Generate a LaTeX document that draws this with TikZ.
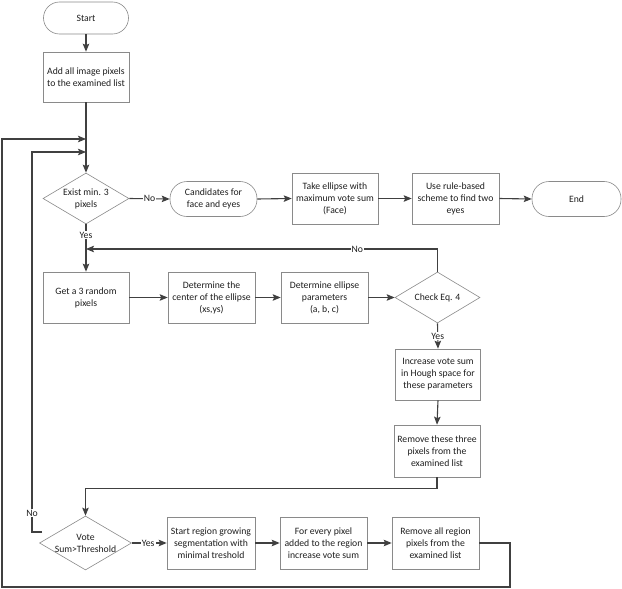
\documentclass[tikz,border=0pt]{standalone}
\usepackage{fontspec}
\setmainfont{Carlito}
\usetikzlibrary{arrows.meta,shapes.geometric,calc}
\definecolor{linec}{HTML}{404040}
\definecolor{boxc}{HTML}{8A8A8A}
\definecolor{txt}{HTML}{1E1E1E}
\begin{document}
\begin{tikzpicture}[x=1pt,y=-1pt,
  font=\fontsize{9.7}{12}\selectfont,
  box/.style={draw=boxc, line width=0.6pt, fill=white, minimum width=86pt, minimum height=51pt, inner sep=0pt, align=center, text=txt},
  term/.style={box, rounded corners=17pt, minimum height=35pt},
  dia/.style={draw=boxc, line width=0.6pt, fill=white, diamond, inner sep=0pt, minimum width=86pt, minimum height=51pt},
  dtext/.style={align=center, text=txt, inner sep=0pt},
  arr/.style={draw=linec, line width=1.1pt, -{Stealth[length=8pt,width=6.5pt,inset=1.5pt]}},
  ln/.style={draw=linec, line width=1.1pt},
  lbl/.style={fill=white, text=txt, inner sep=1pt}
]
\useasboundingbox (0,0) rectangle (622,589);

% nodes
\node[term, minimum width=85pt, minimum height=32pt, rounded corners=16pt] (start) at (86,18) {Start};
\node[box, minimum height=50pt] (add) at (86,77) {Add all image pixels\\to the examined list};
\node[dia] (d1) at (86,198.5) {};
\node[dtext] (d1t) at (d1) {Exist min. 3\\pixels};
\node[term, minimum width=87pt] (cand) at (213.5,199) {Candidates for\\face and eyes};
\node[box] (take) at (335,198.5) {Take ellipse with\\maximum vote sum\\(Face)};
\node[box, minimum width=87pt] (rule) at (455.5,198.5) {Use rule-based\\scheme to find two\\eyes};
\node[term, minimum width=89pt] (end) at (576.5,199) {End};

\node[box] (get) at (86,297.5) {Get a 3 random\\pixels};
\node[box, minimum width=87pt] (dcen) at (211.5,297.5) {Determine the\\center of the ellipse\\(xs,ys)};
\node[box, minimum width=87pt] (dpar) at (324.5,297.5) {Determine ellipse\\parameters\\(a, b, c)};
\node[dia, minimum width=85pt] (check) at (437.5,297.5) {};
\node[dtext] (checkt) at (check) {Check Eq. 4};
\node[box, minimum width=85pt] (incr) at (438,374.5) {Increase vote sum\\in Hough space for\\these parameters};
\node[box, minimum height=52pt] (rem3) at (437,451) {Remove these three\\pixels from the\\examined list};

\node[dia, minimum width=92pt, minimum height=54pt] (vote) at (85.5,543) {};
\node[dtext] (votet) at (vote) {Vote\\Sum>Threshold};
\node[box, minimum width=88pt, minimum height=52pt] (sreg) at (211,543) {Start region growing\\segmentation with\\minimal treshold};
\node[box, minimum width=87pt, minimum height=52pt] (every) at (323.5,543) {For every pixel\\added to the region\\increase vote sum};
\node[box, minimum width=87pt, minimum height=52pt] (rall) at (435.5,543) {Remove all region\\pixels from the\\examined list};

% junction coordinates
\coordinate (j1) at (86,139);
\coordinate (j2) at (86,152);
\coordinate (j3) at (86,249);
\coordinate (c1) at (510,587);
\coordinate (c2) at (2,587);
\coordinate (vn) at (42,532);
\coordinate (c3) at (32,532);

% connectors
\draw[arr] (start.south) -- (add.north);
\draw[arr] (add.south) -- (d1.north);
\draw[arr] (d1.east) -- node[lbl, pos=0.5]{No} (cand.west);
\draw[arr] (cand.east) -- (take.west);
\draw[arr] (take.east) -- (rule.west);
\draw[arr] (rule.east) -- (end.west);
\draw[arr] (d1.south) -- node[lbl, pos=0.23]{Yes} (get.north);
\draw[arr] (get.east) -- (dcen.west);
\draw[arr] (dcen.east) -- (dpar.west);
\draw[arr] (dpar.east) -- (check.west);
\draw[arr] (check.north) |- node[lbl, pos=0.614]{No} (j3);
\draw[arr] (check.south) -- node[lbl, pos=0.5]{Yes} (incr.north);
\draw[arr] (incr.south) -- (rem3.north);
\draw[arr] (rem3.south) -- ++(0,11) -| (vote.north);
\draw[arr] (vote.east) -- node[lbl, pos=0.47]{Yes} (sreg.west);
\draw[arr] (sreg.east) -- (every.west);
\draw[arr] (every.east) -- (rall.west);
\draw[arr] (rall.east) -| (c1) -- (c2) |- (j1);
\draw[arr] (vn) -- (c3) |- node[lbl, pos=0.025]{No} (j2);
\end{tikzpicture}
\end{document}
